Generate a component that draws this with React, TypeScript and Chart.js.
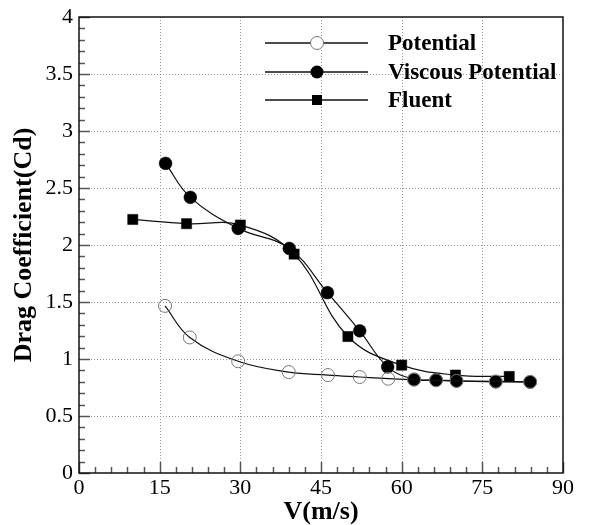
import React, { useEffect, useRef } from 'react';
import { Chart, registerables } from 'chart.js';

Chart.register(...registerables);

// ---- data ----
const seriesNames = ['Potential', 'Viscous Potential', 'Fluent'];

const potentialV = [16.0, 20.6, 29.6, 39.0, 46.3, 52.2, 57.5, 62.3, 66.4, 70.2, 77.5, 83.9];
const potentialCd = [1.466, 1.189, 0.98, 0.885, 0.859, 0.842, 0.827, 0.818, 0.813, 0.808, 0.803, 0.8];

const viscousV = [16.1, 20.7, 29.6, 39.1, 46.2, 52.2, 57.4, 62.3, 66.4, 70.2, 77.5, 83.9];
const viscousCd = [2.716, 2.418, 2.146, 1.97, 1.582, 1.247, 0.931, 0.822, 0.816, 0.807, 0.8, 0.798];

const fluentV = [10, 20, 30, 40, 50, 60, 70, 80];
const fluentCd = [2.224, 2.187, 2.175, 1.92, 1.197, 0.946, 0.859, 0.847];

const xTicks = [0, 15, 30, 45, 60, 75, 90];
const yTicks = [0, 0.5, 1, 1.5, 2, 2.5, 3, 3.5, 4];

const SERIF = '"Liberation Serif", "Times New Roman", serif';

const toPoints = (xs: number[], ys: number[]) => xs.map((v, i) => ({ x: v, y: ys[i] }));

const framePlugin = {
  id: 'frameTicks',
  beforeDatasetsDraw(chart: any) {
    const { ctx, chartArea: a, scales } = chart;
    const xs = scales.x;
    const ys = scales.y;
    ctx.save();
    // dotted grid at majors
    ctx.strokeStyle = '#9a9a9a';
    ctx.lineWidth = 1;
    ctx.setLineDash([1, 2]);
    xTicks.slice(1, -1).forEach((v) => {
      const px = Math.round(xs.getPixelForValue(v)) + 0.5;
      ctx.beginPath();
      ctx.moveTo(px, a.top);
      ctx.lineTo(px, a.bottom);
      ctx.stroke();
    });
    yTicks.slice(1, -1).forEach((v) => {
      const py = Math.round(ys.getPixelForValue(v)) + 0.5;
      ctx.beginPath();
      ctx.moveTo(a.left, py);
      ctx.lineTo(a.right, py);
      ctx.stroke();
    });
    ctx.setLineDash([]);
    // inward ticks (major + minor)
    ctx.strokeStyle = '#555';
    ctx.lineWidth = 1.5;
    const xStep = xTicks[1] - xTicks[0];
    const xMax = xTicks[xTicks.length - 1];
    for (let i = 0; i * xStep / 5 <= xMax + 1e-9; i++) {
      const v = (i * xStep) / 5;
      const px = Math.round(xs.getPixelForValue(v)) + 0.5;
      const len = i % 5 === 0 ? 11 : 6;
      ctx.beginPath();
      ctx.moveTo(px, a.bottom);
      ctx.lineTo(px, a.bottom - len);
      ctx.stroke();
    }
    const yStep = yTicks[1] - yTicks[0];
    const yMax = yTicks[yTicks.length - 1];
    for (let i = 0; i * yStep / 5 <= yMax + 1e-9; i++) {
      const v = (i * yStep) / 5;
      const py = Math.round(ys.getPixelForValue(v)) + 0.5;
      const len = i % 5 === 0 ? 11 : 6;
      ctx.beginPath();
      ctx.moveTo(a.left, py);
      ctx.lineTo(a.left + len, py);
      ctx.stroke();
    }
    // frame
    ctx.strokeStyle = '#111';
    ctx.lineWidth = 1.5;
    ctx.strokeRect(a.left, a.top, a.right - a.left, a.bottom - a.top);
    ctx.restore();
  },
};

const legendPlugin = {
  id: 'lineLegend',
  afterDatasetsDraw(chart: any) {
    const { ctx } = chart;
    const rows = [43, 72, 100];
    const x0 = 265;
    const x1 = 368;
    const xm = 317;
    const xt = 388;
    ctx.save();
    rows.forEach((ry, i) => {
      ctx.strokeStyle = '#111';
      ctx.lineWidth = 1.5;
      ctx.beginPath();
      ctx.moveTo(x0, ry);
      ctx.lineTo(x1, ry);
      ctx.stroke();
      if (i === 0) {
        ctx.beginPath();
        ctx.arc(xm, ry, 6.5, 0, Math.PI * 2);
        ctx.fillStyle = '#fff';
        ctx.fill();
        ctx.strokeStyle = '#777';
        ctx.lineWidth = 1;
        ctx.stroke();
      } else if (i === 1) {
        ctx.beginPath();
        ctx.arc(xm, ry, 6.5, 0, Math.PI * 2);
        ctx.fillStyle = '#000';
        ctx.fill();
      } else {
        ctx.fillStyle = '#000';
        ctx.fillRect(xm - 5, ry - 5, 10, 10);
      }
      ctx.fillStyle = '#000';
      ctx.font = `bold 23px ${SERIF}`;
      ctx.textAlign = 'left';
      ctx.textBaseline = 'middle';
      ctx.fillText(seriesNames[i], xt, ry + 1);
    });
    ctx.restore();
  },
};

export default function App() {
  const canvasRef = useRef<HTMLCanvasElement | null>(null);

  useEffect(() => {
    const canvas = canvasRef.current;
    if (!canvas) return;
    const chart = new Chart(canvas, {
      type: 'line',
      data: {
        datasets: [
          {
            label: seriesNames[0],
            data: toPoints(potentialV, potentialCd),
            borderColor: '#111',
            borderWidth: 1.2,
            tension: 0.4,
            pointStyle: 'circle',
            pointRadius: 6.5,
            pointBorderColor: '#777',
            pointBorderWidth: 1,
            pointBackgroundColor: 'rgba(0,0,0,0)',
          },
          {
            label: seriesNames[1],
            data: toPoints(viscousV, viscousCd),
            borderColor: '#111',
            borderWidth: 1.2,
            tension: 0.4,
            pointStyle: 'circle',
            pointRadius: 6.4,
            pointBorderColor: '#000',
            pointBorderWidth: 0.5,
            pointBackgroundColor: '#000',
          },
          {
            label: seriesNames[2],
            data: toPoints(fluentV, fluentCd),
            borderColor: '#111',
            borderWidth: 1.2,
            tension: 0.4,
            pointStyle: 'rect',
            pointRadius: 7.2,
            pointBorderColor: '#000',
            pointBorderWidth: 0.5,
            pointBackgroundColor: '#000',
          },
        ],
      },
      options: {
        responsive: false,
        animation: false,
        devicePixelRatio: 1,
        layout: { padding: { top: 12, right: 28, left: 0, bottom: 0 } },
        plugins: {
          legend: { display: false },
          tooltip: { enabled: false },
        },
        scales: {
          x: {
            type: 'linear',
            min: xTicks[0],
            max: xTicks[xTicks.length - 1],
            grid: { display: false, drawTicks: false },
            border: { display: false },
            ticks: {
              stepSize: xTicks[1] - xTicks[0],
              padding: 4,
              color: '#000',
              maxRotation: 0,
              font: { family: SERIF, size: 22, lineHeight: 1 },
              callback: (v: any) => String(v),
            },
            title: {
              display: true,
              text: 'V(m/s)',
              color: '#000',
              padding: 0,
              font: { family: SERIF, size: 26, weight: 'bold', lineHeight: 1 },
            },
            afterFit: (s: any) => {
              s.height = 52;
            },
          },
          y: {
            type: 'linear',
            min: yTicks[0],
            max: yTicks[yTicks.length - 1],
            grid: { display: false, drawTicks: false },
            border: { display: false },
            ticks: {
              stepSize: yTicks[1] - yTicks[0],
              padding: 6,
              color: '#000',
              font: { family: SERIF, size: 22, lineHeight: 1 },
              callback: (v: any) => String(v),
            },
            title: {
              display: true,
              text: 'Drag Coefficient(Cd)',
              color: '#000',
              padding: { top: 11, bottom: 0 },
              font: { family: SERIF, size: 26, weight: 'bold', lineHeight: 1 },
            },
            afterFit: (s: any) => {
              s.width = 79;
            },
          },
        },
      },
      plugins: [framePlugin, legendPlugin],
    });
    return () => chart.destroy();
  }, []);

  return (
    <div style={{ position: 'fixed', left: 0, top: 0, width: 591, height: 525, background: '#fff' }}>
      <canvas ref={canvasRef} width={591} height={525} style={{ display: 'block' }} />
    </div>
  );
}
